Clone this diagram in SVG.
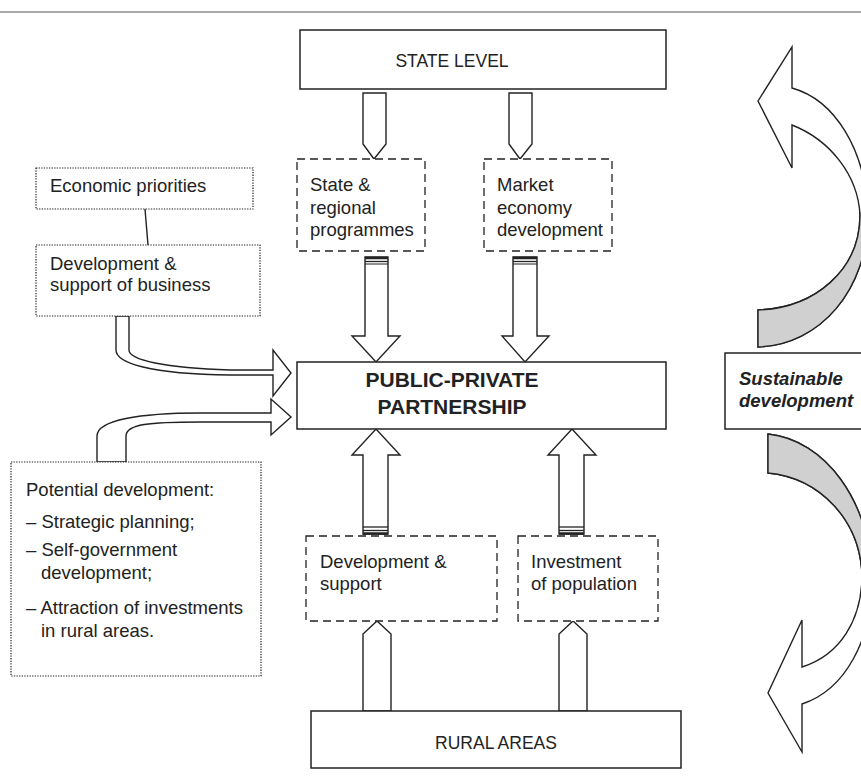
<svg xmlns="http://www.w3.org/2000/svg" width="861" height="780" viewBox="0 0 861 780">
<style>
text{font-family:"Liberation Sans",Arial,sans-serif;fill:#222;font-size:18.5px}
.big{font-size:17.5px}
.ppp{font-size:21px;font-weight:bold}
.sd{font-weight:bold;font-style:italic}
.box{fill:#fff;stroke:#222;stroke-width:1.5}
.dash{fill:#fff;stroke:#222;stroke-width:1.3;stroke-dasharray:8,5}
.dot{fill:#fff;stroke:#222;stroke-width:1.2;stroke-dasharray:1.3,1.3}
.arr{fill:#fff;stroke:#222;stroke-width:1.4;stroke-linejoin:miter}
.gray{fill:#d0d0d0;stroke:#222;stroke-width:1.4}
</style>
<defs>
<clipPath id="cTop"><rect x="700" y="212" width="170" height="150"/></clipPath>
<clipPath id="cBot"><rect x="700" y="420" width="170" height="155"/></clipPath>
</defs>
<line x1="0" y1="12" x2="861" y2="12" stroke="#555" stroke-width="1.2"/>

<g id="connectors">
<polygon class="arr" points="363,93 386,93 386,144 374,159 363,144"/>
<polygon class="arr" points="509,93 532,93 532,144 520,159 509,144"/>
<polygon class="arr" points="365,257 388,257 388,336 400,336 376,362 352,336 365,336"/>
<polygon class="arr" points="513,257 537,257 537,336 549,336 525,362 502,336 513,336"/>
<g stroke="#222">
<line x1="365" y1="258" x2="388" y2="258" stroke-width="2.5"/>
<line x1="365" y1="261.5" x2="388" y2="261.5" stroke-width="1.3"/>
<line x1="365" y1="264" x2="388" y2="264" stroke-width="1"/>
<line x1="513" y1="258" x2="537" y2="258" stroke-width="2.5"/>
<line x1="513" y1="261.5" x2="537" y2="261.5" stroke-width="1.3"/>
<line x1="513" y1="264" x2="537" y2="264" stroke-width="1"/>
</g>
<polygon class="arr" points="363,534 388,534 388,455 400,455 376,429 352,455 363,455"/>
<polygon class="arr" points="559,534 584,534 584,455 596,455 572,429 548,455 559,455"/>
<g stroke="#222">
<line x1="363" y1="527" x2="388" y2="527" stroke-width="1.3"/>
<line x1="363" y1="530.5" x2="388" y2="530.5" stroke-width="1.3"/>
<line x1="363" y1="533.5" x2="388" y2="533.5" stroke-width="2.5"/>
<line x1="559" y1="527" x2="584" y2="527" stroke-width="1.3"/>
<line x1="559" y1="530.5" x2="584" y2="530.5" stroke-width="1.3"/>
<line x1="559" y1="533.5" x2="584" y2="533.5" stroke-width="2.5"/>
</g>
<polygon class="arr" points="363,711 391,711 391,634 377,621 363,634"/>
<polygon class="arr" points="559,711 587,711 587,634 573,621 559,634"/>
<line x1="145" y1="209" x2="148" y2="245" stroke="#222" stroke-width="1.4"/>
<path class="arr" d="M116,316 L116,350 C116,363 150,374 230,375 L273,375 L273,396 L291,373 L273,350 L273,370 L230,370 C165,368 129,360 129,350 L129,316 Z"/>
<path class="arr" d="M97,462 L97,436 C97,420 140,413 200,413 L271,413 L271,399 L291,417 L271,435 L271,422 L200,422 C150,422 126,424 126,436 L126,462 Z"/>
<path class="arr" d="M792,88 C835,100 866,150 868,215 C868,290 820,345 758,347 L758,310 C815,308 860,270 860,215 C858,175 830,140 792,125 L792,168 L758,101 L792,47 Z"/>
<path class="gray" clip-path="url(#cTop)" d="M792,88 C835,100 866,150 868,215 C868,290 820,345 758,347 L758,310 C815,308 860,270 860,215 C858,175 830,140 792,125 L792,168 L758,101 L792,47 Z"/>
<path class="arr" d="M768,434 C825,440 870,500 872,580 C872,640 845,690 802,704 L802,752 L768,693 L802,620 L802,667 C840,655 862,620 862,575 C860,520 820,478 768,473 Z"/>
<path class="gray" clip-path="url(#cBot)" d="M768,434 C825,440 870,500 872,580 C872,640 845,690 802,704 L802,752 L768,693 L802,620 L802,667 C840,655 862,620 862,575 C860,520 820,478 768,473 Z"/>
</g>

<g id="state-level">
<rect class="box" x="300" y="30" width="366" height="59"/>
<text class="big" x="452" y="67" text-anchor="middle">STATE LEVEL</text>
</g>
<g id="state-programmes">
<rect class="dash" x="297" y="159" width="128" height="92"/>
<text x="310" y="191">State &amp;</text>
<text x="310" y="213.5">regional</text>
<text x="310" y="236">programmes</text>
</g>
<g id="market">
<rect class="dash" x="484" y="159" width="128" height="92"/>
<text x="497" y="191">Market</text>
<text x="497" y="213.5">economy</text>
<text x="497" y="236">development</text>
</g>
<g id="economic-priorities">
<rect class="dot" x="36" y="168" width="217" height="41"/>
<text x="50" y="192">Economic priorities</text>
</g>
<g id="business">
<rect class="dot" x="36" y="245" width="224" height="71"/>
<text x="50" y="270">Development &amp;</text>
<text x="50" y="291">support of business</text>
</g>
<g id="ppp">
<rect class="box" x="297" y="362" width="369" height="67"/>
<text class="ppp" x="452" y="387" text-anchor="middle">PUBLIC-PRIVATE</text>
<text class="ppp" x="452" y="414" text-anchor="middle">PARTNERSHIP</text>
</g>
<g id="potential">
<rect class="dot" x="11" y="462" width="250" height="214"/>
<text x="26" y="496">Potential development:</text>
<text x="26" y="528">– Strategic planning;</text>
<text x="26" y="556">– Self-government</text>
<text x="41" y="579">development;</text>
<text x="26" y="614">– Attraction of investments</text>
<text x="41" y="637">in rural areas.</text>
</g>
<g id="dev-support">
<rect class="dash" x="306" y="536" width="191" height="85"/>
<text x="320" y="568">Development &amp;</text>
<text x="320" y="590">support</text>
</g>
<g id="investment">
<rect class="dash" x="518" y="536" width="140" height="85"/>
<text x="531" y="568">Investment</text>
<text x="531" y="590">of population</text>
</g>
<g id="rural">
<rect class="box" x="311" y="711" width="370" height="57"/>
<text class="big" x="496" y="749" text-anchor="middle">RURAL AREAS</text>
</g>
<g id="sustainable">
<rect class="box" x="725" y="353" width="150" height="76"/>
<text class="sd" x="739" y="385">Sustainable</text>
<text class="sd" x="739" y="407">development</text>
</g>
</svg>
